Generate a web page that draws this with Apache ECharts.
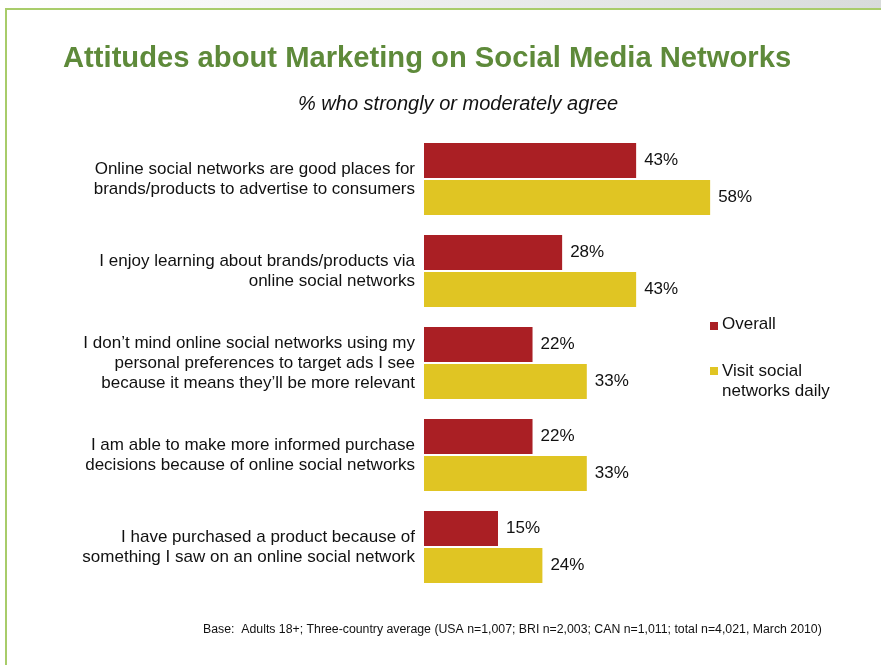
<!DOCTYPE html>
<html>
<head>
<meta charset="utf-8">
<script src="https://cdn.jsdelivr.net/npm/echarts@6/dist/echarts.min.js"></script>
<style>
  html, body { margin: 0; padding: 0; background: #ffffff; }
  #chart { width: 881px; height: 665px; }
</style>
</head>
<body>
<div id="chart"></div>
<script>
// Survey statements (top to bottom)
const categories = [
  'Online social networks are good places for\nbrands/products to advertise to consumers',
  'I enjoy learning about brands/products via\nonline social networks',
  'I don\u2019t mind online social networks using my\npersonal preferences to target ads I see\nbecause it means they\u2019ll be more relevant',
  'I am able to make more informed purchase\ndecisions because of online social networks',
  'I have purchased a product because of\nsomething I saw on an online social network'
];
const overall = [43, 28, 22, 22, 15];
const dailyUsers = [58, 43, 33, 33, 24];
const seriesNames = ['Overall', 'Visit social networks daily'];
const legendLabels = ['Overall', 'Visit social\nnetworks daily'];

const RED = '#aa1f24';
const YELLOW = '#e0c523';
const GREEN = '#5e8a3a';
const FONT = '"Liberation Sans", Arial, sans-serif';

const chart = echarts.init(document.getElementById('chart'), null, { renderer: 'canvas' });

const valueLabel = {
  show: true,
  position: 'right',
  distance: 8,
  formatter: p => p.value + '%',
  color: '#111',
  fontFamily: FONT,
  fontSize: 17
};

chart.setOption({
  animation: false,
  backgroundColor: '#ffffff',
  grid: { left: 424, top: 133, width: 444, height: 460, containLabel: false },
  xAxis: {
    type: 'value', min: 0, max: 90,
    show: false
  },
  yAxis: {
    type: 'category',
    data: categories,
    inverse: true,
    axisLine: { show: false },
    axisTick: { show: false },
    splitLine: { show: false },
    axisLabel: {
      margin: 9,
      align: 'right',
      color: '#111',
      fontFamily: FONT,
      fontSize: 17,
      lineHeight: 20
    }
  },
  series: [
    {
      name: seriesNames[0], type: 'bar', data: overall,
      barWidth: 35, barGap: '6%', barCategoryGap: '22%',
      itemStyle: { color: RED },
      label: valueLabel
    },
    {
      name: seriesNames[1], type: 'bar', data: dailyUsers,
      barWidth: 35,
      itemStyle: { color: YELLOW },
      label: valueLabel
    }
  ],
  graphic: [
    // top gradient band and green frame
    {
      type: 'rect', shape: { x: 0, y: 0, width: 881, height: 9 },
      style: {
        fill: new echarts.graphic.LinearGradient(0, 0, 1, 0, [
          { offset: 0, color: '#ffffff' },
          { offset: 0.25, color: '#f6f7f6' },
          { offset: 1, color: '#d8dbdb' }
        ])
      }, silent: true
    },
    { type: 'rect', shape: { x: 5, y: 8, width: 876, height: 2 }, style: { fill: '#a8cc6a' }, silent: true },
    { type: 'rect', shape: { x: 5, y: 8, width: 2, height: 657 }, style: { fill: '#a8cc6a' }, silent: true },
    // title and subtitle
    {
      type: 'text', left: 63, top: 44,
      style: {
        text: 'Attitudes about Marketing on Social Media Networks',
        fill: GREEN, font: 'bold 29.2px ' + FONT
      }
    },
    {
      type: 'text', left: 298, top: 94,
      style: {
        text: '% who strongly or moderately agree',
        fill: '#111', font: 'italic 20px ' + FONT
      }
    },
    // legend
    { type: 'rect', shape: { x: 710, y: 322, width: 8, height: 8 }, style: { fill: RED } },
    {
      type: 'text', left: 722, top: 316,
      style: { text: legendLabels[0], fill: '#111', font: '17px ' + FONT }
    },
    { type: 'rect', shape: { x: 710, y: 367, width: 8, height: 8 }, style: { fill: YELLOW } },
    {
      type: 'text', left: 722, top: 361,
      style: { text: legendLabels[1], fill: '#111', font: '17px ' + FONT, lineHeight: 20 }
    },
    // footnote
    {
      type: 'text', left: 203, top: 624,
      style: {
        text: 'Base:  Adults 18+; Three-country average (USA n=1,007; BRI n=2,003; CAN n=1,011; total n=4,021, March 2010)',
        fill: '#111', font: '12.3px ' + FONT
      }
    }
  ]
});
</script>
</body>
</html>
